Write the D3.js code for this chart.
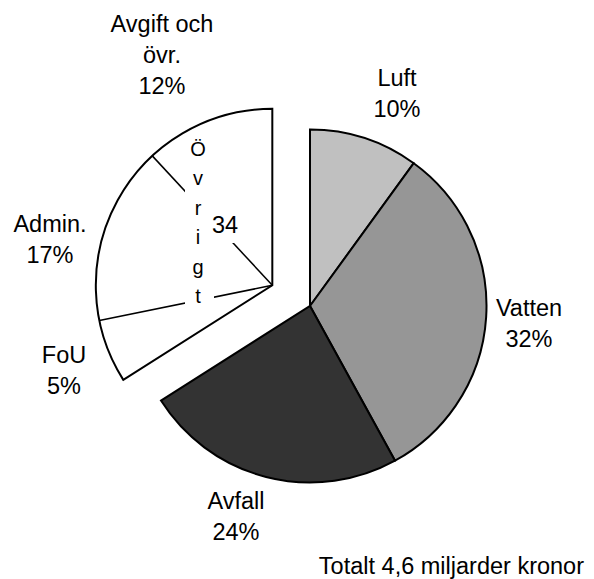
<!DOCTYPE html>
<html>
<head>
<meta charset="utf-8">
<script src="https://cdn.jsdelivr.net/npm/d3@7"></script>
<style>
  html, body { margin: 0; padding: 0; background: #fff; }
  svg text { font-family: "Liberation Sans", Arial, sans-serif; fill: #000; }
</style>
</head>
<body>
<svg id="chart" width="594" height="579"></svg>
<script>
// ---- data ----
const categories = ["Luft", "Vatten", "Avfall", "Övrigt"];
const values = [10, 32, 24, 34];
const colors = ["#c0c0c0", "#969696", "#333333", "#ffffff"];
const subCategories = ["FoU", "Admin.", "Avgift och övr."];
const subValues = [5.8, 16.3, 11.9];          // shares within "Övrigt" as drawn
const labelLines = [
  ["Luft", "10%"],
  ["Vatten", "32%"],
  ["Avfall", "24%"],
  ["FoU", "5%"],
  ["Admin.", "17%"],
  ["Avgift och", "övr.", "12%"]
];
const explodedLabel = "Övrigt";
const explodedValue = "34";
const footnote = "Totalt 4,6 miljarder kronor";

// ---- layout ----
const cx = 310, cy = 306, R = 176.5, explodeDist = 43;
const fontSize = 23.5, lineH = 31;
const labelPos = [
  [397, 86], [529, 316], [236, 509], [64, 363], [50, 232], [162, 32]
];

const svg = d3.select("#chart");
const pie = d3.pie().sort(null).value(d => d);
const arcs = pie(values);
const arcGen = d3.arc().innerRadius(0).outerRadius(R);

const g = svg.append("g").attr("transform", `translate(${cx},${cy})`);

// main slices (not exploded)
arcs.slice(0, 3).forEach((a, i) => {
  g.append("path")
    .attr("d", arcGen(a))
    .attr("fill", colors[i])
    .attr("stroke", "#000")
    .attr("stroke-width", 2)
    .attr("stroke-linejoin", "miter");
});

// exploded slice
const ex = arcs[3];
const mid = (ex.startAngle + ex.endAngle) / 2;
const ox = explodeDist * Math.sin(mid), oy = -explodeDist * Math.cos(mid);
const ge = g.append("g").attr("transform", `translate(${ox},${oy})`);
ge.append("path")
  .attr("d", arcGen(ex))
  .attr("fill", colors[3])
  .attr("stroke", "#000")
  .attr("stroke-width", 2);

// sub-division lines inside exploded slice
const subScale = d3.scaleLinear()
  .domain([0, d3.sum(subValues)])
  .range([ex.startAngle, ex.endAngle]);
const cum = d3.cumsum(subValues);
cum.slice(0, -1).forEach(c => {
  const ang = subScale(c);
  ge.append("line")
    .attr("x1", 0).attr("y1", 0)
    .attr("x2", R * Math.sin(ang)).attr("y2", -R * Math.cos(ang))
    .attr("stroke", "#000").attr("stroke-width", 1.5);
});

// label masks (white boxes behind the in-slice texts)
const absX = x => x - cx - ox, absY = y => y - cy - oy;
ge.append("rect")
  .attr("x", absX(185)).attr("y", absY(138))
  .attr("width", 29).attr("height", 172)
  .attr("fill", "#fff");
ge.append("rect")
  .attr("x", absX(211)).attr("y", absY(208))
  .attr("width", 23).attr("height", 35)
  .attr("fill", "#fff");

// vertical "Övrigt"
const letters = Array.from(explodedLabel);
letters.forEach((ch, i) => {
  svg.append("text")
    .attr("x", 198).attr("y", 156 + i * 29.4)
    .attr("text-anchor", "middle")
    .attr("font-size", 20)
    .text(ch);
});
svg.append("text")
  .attr("x", 225).attr("y", 233)
  .attr("text-anchor", "middle")
  .attr("font-size", fontSize)
  .text(explodedValue);

// outer labels
labelLines.forEach((lines, i) => {
  const [x, y] = labelPos[i];
  lines.forEach((t, j) => {
    svg.append("text")
      .attr("x", x).attr("y", y + j * lineH)
      .attr("text-anchor", "middle")
      .attr("font-size", fontSize)
      .text(t);
  });
});

svg.append("text")
  .attr("x", 584).attr("y", 574)
  .attr("text-anchor", "end")
  .attr("font-size", fontSize)
  .text(footnote);
</script>
</body>
</html>
